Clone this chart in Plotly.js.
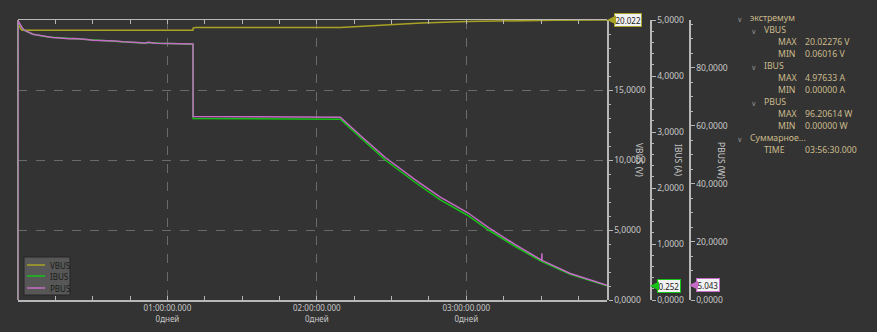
<!DOCTYPE html>
<html>
<head>
<meta charset="utf-8">
<script src="https://cdn.plot.ly/plotly-3.0.1.min.js"></script>
<style>html,body{margin:0;padding:0;background:#333333;}</style>
</head>
<body>
<div id="chart" style="width:877px;height:332px;"></div>
<script>
// ---- data (time in hours) ----
const seriesNames = ["VBUS", "IBUS", "PBUS"];
const seriesColors = ["#a9a325", "#16c216", "#c66cc6"];

const tVBUS = [0, 0.0005, 0.008, 0.02, 0.03, 1.171, 1.172, 1.19, 2.157, 2.3, 2.5, 2.7, 3.0, 3.3, 3.6, 3.942];
const vVBUS = [0.06, 20.0, 19.6, 19.35, 19.29, 19.29, 19.45, 19.5, 19.5, 19.58, 19.7, 19.82, 19.93, 19.99, 20.01, 20.022];

const tIBUS = [0, 0.0005, 0.01, 0.02, 0.03, 0.045, 0.06, 0.08, 0.1, 0.12, 0.14, 0.17, 0.2, 0.23, 0.26, 0.3, 0.34, 0.38, 0.42, 0.46, 0.5, 0.55, 0.6, 0.65, 0.7, 0.75, 0.8, 0.85, 0.87, 0.92, 0.97, 1.02, 1.07, 1.12, 1.171, 1.172, 1.6, 2.157, 2.291, 2.458, 2.659, 2.826, 3.005, 3.149, 3.328, 3.506, 3.696, 3.896, 3.942];
const vIBUS = [0, 4.976, 4.93, 4.88, 4.85, 4.81, 4.79, 4.77, 4.745, 4.735, 4.72, 4.71, 4.695, 4.69, 4.68, 4.672, 4.667, 4.664, 4.652, 4.648, 4.637, 4.632, 4.625, 4.621, 4.611, 4.607, 4.597, 4.585, 4.598, 4.585, 4.582, 4.579, 4.575, 4.572, 4.568, 3.24, 3.235, 3.227, 2.902, 2.5, 2.098, 1.786, 1.518, 1.25, 0.955, 0.684, 0.457, 0.286, 0.252];

const tPBUS = [0, 0.0005, 0.01, 0.02, 0.03, 0.045, 0.06, 0.08, 0.1, 0.12, 0.14, 0.17, 0.2, 0.23, 0.26, 0.3, 0.34, 0.38, 0.42, 0.46, 0.5, 0.55, 0.6, 0.65, 0.7, 0.75, 0.8, 0.85, 0.87, 0.92, 0.97, 1.02, 1.07, 1.12, 1.171, 1.172, 1.6, 2.157, 2.291, 2.458, 2.659, 2.826, 3.005, 3.149, 3.328, 3.505, 3.506, 3.507, 3.696, 3.896, 3.942];
const vPBUS = [0, 96.2, 95.4, 94.3, 93.6, 92.9, 92.5, 92.1, 91.6, 91.4, 91.2, 90.9, 90.6, 90.5, 90.4, 90.2, 90.05, 90.1, 89.8, 89.75, 89.5, 89.45, 89.3, 89.25, 89.0, 88.95, 88.75, 88.5, 88.8, 88.5, 88.45, 88.4, 88.3, 88.25, 88.2, 63.2, 63.15, 63.0, 56.7, 49.1, 41.4, 35.45, 30.24, 24.94, 19.08, 13.7, 16.1, 13.66, 9.14, 5.73, 5.043];

const xTickVals = [1, 2, 3];
const xTickText = ["01:00:00.000<br>0дней", "02:00:00.000<br>0дней", "03:00:00.000<br>0дней"];
const vbusTicks = [0, 5, 10, 15];
const ibusTicks = [0, 1, 2, 3, 4, 5];
const pbusTicks = [0, 20, 40, 60, 80];
const axisTitles = ["VBUS (V)", "IBUS (A)", "PBUS (W)"];
const lastLabels = ["20.022", "0.252", "5.043"];
const lastValues = [20.022, 0.252, 5.043];

const treeRows = [
  {lvl: 0, chev: true, a: "экстремум", b: ""},
  {lvl: 1, chev: true, a: "VBUS", b: ""},
  {lvl: 2, chev: false, a: "MAX", b: "20.02276 V"},
  {lvl: 2, chev: false, a: "MIN", b: "0.06016 V"},
  {lvl: 1, chev: true, a: "IBUS", b: ""},
  {lvl: 2, chev: false, a: "MAX", b: "4.97633 A"},
  {lvl: 2, chev: false, a: "MIN", b: "0.00000 A"},
  {lvl: 1, chev: true, a: "PBUS", b: ""},
  {lvl: 2, chev: false, a: "MAX", b: "96.20614 W"},
  {lvl: 2, chev: false, a: "MIN", b: "0.00000 W"},
  {lvl: 0, chev: true, a: "Суммарное...", b: ""},
  {lvl: 1, chev: false, a: "TIME", b: "03:56:30.000"}
];

// ---- layout helpers ----
const W = 877, H = 332, ML = 18, MT = 20, MB = 32;
const PW = W - ML, PH = H - MT - MB;
const px = x => (x - ML) / PW;
const py = y => (MT + PH - y) / PH;
const FONT = "Noto Sans, Open Sans, DejaVu Sans, sans-serif";
const tickFont = {family: FONT, size: 8.5, color: "#c8c8c8"};
const xEnd = px(607), posV = px(607), posI = px(650), posP = px(689);
const VMAX = 20.03;

const traces = [
  {x: tVBUS, y: vVBUS, yaxis: "y", name: seriesNames[0], line: {color: seriesColors[0], width: 1.5}},
  {x: tIBUS, y: vIBUS, yaxis: "y2", name: seriesNames[1], line: {color: seriesColors[1], width: 1.5}},
  {x: tPBUS, y: vPBUS, yaxis: "y3", name: seriesNames[2], line: {color: seriesColors[2], width: 1.5}}
].map(t => Object.assign({type: "scatter", mode: "lines", hoverinfo: "skip", cliponaxis: false}, t));

const yCommon = {
  side: "right", showline: true, linecolor: "#b8b8b8", linewidth: 1.5,
  ticks: "outside", ticklen: 4, tickcolor: "#b8b8b8", tickfont: tickFont,
  ticklabelposition: "outside", tickformat: ".4f", zeroline: false, fixedrange: true
};

const annotations = [];
// axis titles
const titleX = [640, 679, 722];
axisTitles.forEach((t, i) => annotations.push({
  xref: "paper", yref: "paper", x: px(titleX[i]), y: py(160), text: t, showarrow: false,
  textangle: 90, font: {family: FONT, size: 8.5, color: "#c8c8c8"}, xanchor: "center", yanchor: "middle"
}));
// last value labels
const lblX = [posV, posI, posP];
const lblRef = ["y", "y2", "y3"];
lastLabels.forEach((t, i) => annotations.push({
  xref: "paper", yref: lblRef[i], x: lblX[i], y: lastValues[i], text: t,
  showarrow: true, ax: 7, ay: 0, xanchor: "left", arrowhead: 2, arrowsize: 1.2, arrowwidth: 1.5,
  arrowcolor: seriesColors[i], bgcolor: "#f2f2f2", bordercolor: seriesColors[i], borderwidth: 1, borderpad: 0.5,
  font: {family: FONT, size: 8, color: "#222"}
}));
// tree panel
const rowY0 = 18, rowDY = 12;
const textX = [749, 763, 777], chevX = [740, 754, 768];
const treeFont = 8.7;
treeRows.forEach((r, i) => {
  const y = py(rowY0 + i * rowDY);
  if (r.chev) annotations.push({xref: "paper", yref: "paper", x: px(chevX[r.lvl]), y: y - 0.003, text: "∨", showarrow: false,
    xanchor: "center", yanchor: "middle", borderpad: 0, font: {family: FONT, size: 7.5, color: "#8a8a8a"}});
  annotations.push({xref: "paper", yref: "paper", x: px(textX[r.lvl]), y: y, text: r.a, showarrow: false,
    xanchor: "left", yanchor: "middle", borderpad: 0, font: {family: FONT, size: treeFont, color: "#cbbb8d"}});
  if (r.b) annotations.push({xref: "paper", yref: "paper", x: px(804), y: y, text: r.b, showarrow: false,
    xanchor: "left", yanchor: "middle", borderpad: 0, font: {family: FONT, size: treeFont, color: "#cbbb8d"}});
});
// legend (manual) and left frame line
const shapes = [
  {type: "line", xref: "paper", yref: "paper", x0: 0, x1: 0, y0: 0, y1: 1, line: {color: "#b8b8b8", width: 1.5}, layer: "below"},
  {type: "rect", xref: "paper", yref: "paper", x0: px(24), x1: px(70), y0: py(257), y1: py(295),
    fillcolor: "#575757", line: {color: "#262626", width: 1}, layer: "above"}
];
const legY = [265, 276, 288];
seriesNames.forEach((n, i) => {
  shapes.push({type: "line", xref: "paper", yref: "paper", x0: px(27), x1: px(45), y0: py(legY[i]), y1: py(legY[i]),
    line: {color: seriesColors[i], width: 1.5}, layer: "above"});
  annotations.push({xref: "paper", yref: "paper", x: px(49), y: py(legY[i]), text: n, showarrow: false,
    xanchor: "left", yanchor: "middle", borderpad: 0, font: {family: FONT, size: 8, color: "#1a1a1a"}});
});

const layout = {
  width: W, height: H,
  margin: {l: ML, r: 0, t: MT, b: MB, pad: 0},
  paper_bgcolor: "#333333", plot_bgcolor: "#333333",
  showlegend: false, separators: ", ",
  font: {family: FONT, color: "#c8c8c8"},
  xaxis: {
    domain: [0, xEnd], range: [0, 3.9417], tickmode: "array", tickvals: xTickVals, ticktext: xTickText,
    tickfont: {family: FONT, size: 8, color: "#c8c8c8"}, showgrid: true, gridcolor: "#6a6a6a", griddash: "dash", gridwidth: 1,
    showline: true, linecolor: "#b8b8b8", linewidth: 1.5, mirror: "allticks",
    ticks: "inside", ticklen: 4, tickcolor: "#b8b8b8",
    minor: {tick0: 0, dtick: 0.25, ticks: "inside", ticklen: 3, tickcolor: "#b8b8b8", showgrid: false},
    zeroline: false, fixedrange: true
  },
  yaxis: Object.assign({}, yCommon, {
    anchor: "free", position: posV, range: [0, VMAX], tickmode: "array", tickvals: vbusTicks,
    showgrid: true, gridcolor: "#6a6a6a", griddash: "dash",
    minor: {tick0: 0, dtick: 1, ticks: "outside", ticklen: 2, tickcolor: "#b8b8b8", showgrid: false}
  }),
  yaxis2: Object.assign({}, yCommon, {
    overlaying: "y", anchor: "free", position: posI, range: [0, 5], tickmode: "array", tickvals: ibusTicks,
    showgrid: false,
    minor: {tick0: 0, dtick: 0.2, ticks: "outside", ticklen: 2, tickcolor: "#b8b8b8", showgrid: false}
  }),
  yaxis3: Object.assign({}, yCommon, {
    overlaying: "y", anchor: "free", position: posP, range: [0, 96.5], tickmode: "array", tickvals: pbusTicks,
    showgrid: false,
    minor: {tick0: 0, dtick: 5, ticks: "outside", ticklen: 2, tickcolor: "#b8b8b8", showgrid: false}
  }),
  annotations: annotations,
  shapes: shapes
};

Plotly.newPlot("chart", traces, layout, {displayModeBar: false, staticPlot: true});
</script>
</body>
</html>
